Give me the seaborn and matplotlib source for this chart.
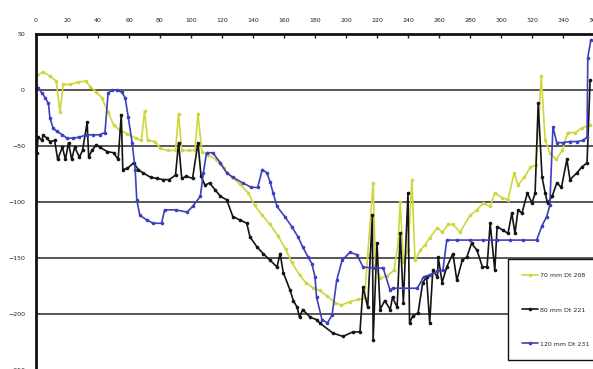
import matplotlib
matplotlib.use("Agg")
import matplotlib.pyplot as plt
import pandas as pd
import seaborn as sns

sns.set_theme(style="white")
plt.rcParams["font.family"] = ["DejaVu Sans"]

# -----------------------
# DATA
# -----------------------
labels = ["70 mm Dt 208", "80 mm Dt 221", "120 mm Dt 231"]

x_70 = [0.6, 4.5, 9, 13, 15.5, 17.5, 22, 27, 32, 35, 39, 42.5, 46.5, 50, 54,
        59, 64.5, 68, 70, 72, 77, 80, 85, 90, 92, 94, 99, 102.5, 104.5, 107,
        111, 116, 121, 126.5, 131.5, 137, 141, 146, 151, 156, 161, 165, 170,
        174, 179, 183, 188, 193, 197, 202.5, 208, 212, 214, 217.5, 219, 222,
        226.5, 231, 233.5, 235, 237, 240, 242.5, 244.5, 248, 251, 254, 259,
        262, 266, 269, 273.5, 280, 284.5, 288.5, 293, 296, 300.5, 304.5,
        308.5, 311, 315, 319, 322.5, 326, 328.5, 331.5, 335.5, 339.5, 343,
        348, 352, 357.5]
y_70 = [13, 16, 12.5, 8, -20, 5, 5, 7, 8, 3, -2, -7, -20, -31, -36,
        -39, -43, -45, -19, -45, -46, -52, -54, -54, -21, -54, -54, -54, -21, -55,
        -58, -62, -70, -78, -84, -92, -103, -112, -120, -130, -142, -154, -165,
        -172, -177, -179, -184, -190, -192, -189, -187, -186, -147, -83, -156, -168,
        -166, -161, -138, -100, -154, -143, -80, -152, -143, -138, -132, -123,
        -127, -120, -120, -127, -112, -107, -101, -104, -92, -96, -98,
        -74, -85, -78, -69, -67, 12.5, -45, -56, -62, -54, -38,
        -38, -34, -31]

x_80 = [0.6, 1.3, 4, 4.5, 7, 9, 12, 14, 17, 19, 21, 23, 25, 28, 30, 33, 34,
        36, 39, 41, 46, 50, 53, 55, 56, 59, 63, 66, 69, 74, 78, 82, 86, 90,
        92, 94, 97, 101, 104.5, 106.5, 109, 112, 115.5, 119, 123, 127, 131.5,
        136, 138, 142.5, 146.5, 151, 155.5, 157.5, 159.5, 164, 166, 168.5,
        170, 172, 177, 181, 183, 191.5, 198, 204.5, 209, 211, 214, 217,
        217.5, 220, 222, 225, 228.5, 230, 233, 235, 237, 240, 241, 243,
        246.5, 249.5, 252, 254, 256, 259, 259.5, 262, 265, 269, 271.5, 275,
        278, 281, 284.5, 288, 291, 293, 296, 297.5, 301, 304.5, 307, 309,
        311, 313.5, 317, 320, 322, 324, 326.5, 328.5, 330, 333, 336, 339,
        342.5, 344.5, 349, 352, 355.5, 357.5]
y_80 = [-56, -42, -45, -40, -43, -46, -45, -62, -51, -62, -47, -62, -51, -60, -54, -29, -60,
        -54, -49, -51, -55, -56, -62, -22, -71, -70, -65, -71, -74, -78, -79, -80, -80, -76,
        -47, -79, -77, -79, -47, -77, -85, -83, -89, -95, -98, -113, -116,
        -119, -131, -140, -146, -152, -158, -146, -163, -179, -188, -194,
        -203, -196, -203, -205, -208, -217, -220, -216, -216, -176, -194, -112,
        -223, -137, -196, -188, -196, -185, -194, -128, -190, -92, -208, -202,
        -199, -172, -167, -208, -161, -167, -149, -172, -158, -146, -170, -152,
        -149, -137, -143, -158, -158, -119, -161, -122, -125, -128, -110, -128,
        -107, -110, -92, -101, -92, -12, -78, -92, -101, -95, -83, -87,
        -62, -80, -74, -69, -65, 9]

x_120 = [0, 1.3, 4, 6, 8, 9, 11, 13.5, 17, 20, 24, 28, 33, 37, 41, 44.5,
         46.5, 49, 52, 55.5, 57.5, 59.5, 62, 64, 65, 67, 71.5, 75.5, 81, 83,
         90, 97.5, 101, 106, 108, 110, 114, 119, 123, 127, 133.5, 139, 143,
         146, 149, 151, 153, 155.5, 160.5, 165, 169, 172, 175.5, 178, 180,
         181, 184.5, 188, 191, 194, 197.5, 202.5, 207, 211, 217.5, 224,
         228.5, 230, 237, 246, 250, 254, 259, 262.5, 265, 271.5, 280, 288.5,
         297.5, 306, 314, 323, 326.5, 329.5, 331.5, 333.5, 336, 340, 344.5,
         349, 353, 355.5, 356, 358]
y_120 = [3, 2, -3, -7, -12, -25, -34, -37, -40, -43, -43, -42, -40, -40, -40, -38,
         -3, 0, 0, -2, -7, -24, -47, -71, -98, -112, -116, -119, -119, -107,
         -107, -109, -104, -95, -74, -56, -56, -65, -74, -78, -83, -87, -87,
         -71, -74, -82, -92, -104, -113, -122, -131, -140, -149, -155, -167,
         -185, -205, -208, -201, -170, -152, -145, -147, -158, -159, -159,
         -179, -177, -177, -177, -167, -165, -162, -161, -134, -134, -134, -134,
         -134, -134, -134, -134, -121, -113, -103, -33, -47, -47, -46,
         -46, -45, -42, 29, 45]

colors = ["#cfd63c", "#141414", "#3c40bd"]
x_ticks = list(range(0, 361, 20))
y_ticks = [50, 0, -50, -100, -150, -200, -250]

# -----------------------
# FIGURE SETUP
# -----------------------
W, H = 593, 369
fig = plt.figure(figsize=(W / 100, H / 100), dpi=100)
ax = fig.add_axes([36 / W, -1 / H, 558 / W, (369 - 34 + 1) / H])

series = [(x_70, y_70), (x_80, y_80), (x_120, y_120)]
for (xs, ys), lab, col in zip(series, labels, colors):
    df = pd.DataFrame({"x": xs, "y": ys})
    sns.lineplot(data=df, x="x", y="y", ax=ax, sort=False, estimator=None,
                 color=col, lw=1.2, marker="o", markersize=2.6,
                 markeredgewidth=0, label=lab)

ax.set_xlim(0, 360)
ax.set_ylim(-250, 50)
ax.set_xlabel("")
ax.set_ylabel("")

# -----------------------
# AXES STYLE
# -----------------------
ax.set_yticks(y_ticks)
ax.set_xticks(x_ticks)
ax.xaxis.tick_top()
ax.tick_params(axis="x", direction="in", length=3, width=1, pad=8,
               labelsize=4.5, colors="#222222")
ax.tick_params(axis="y", length=0, pad=8, labelsize=4.5, colors="#222222")
ax.grid(axis="y", color="#2a2a2a", lw=1.1)
ax.grid(axis="x", visible=False)
ax.set_axisbelow(True)
for side in ["right", "bottom"]:
    ax.spines[side].set_visible(False)
for side in ["top", "left"]:
    ax.spines[side].set_linewidth(2)
    ax.spines[side].set_color("#111111")

# -----------------------
# LEGEND
# -----------------------
leg = ax.legend(loc="upper left",
                bbox_to_anchor=(508 / W, 1 - 263 / H, 90 / W, 0.01),
                bbox_transform=fig.transFigure, mode="expand",
                fontsize=4.5, frameon=True, fancybox=False,
                borderpad=2.2, labelspacing=4.6, handlelength=2.6,
                handletextpad=0.3, borderaxespad=0)
leg.get_frame().set_edgecolor("#111111")
leg.get_frame().set_linewidth(1.0)
leg.get_frame().set_facecolor("white")
leg.get_frame().set_alpha(1)

fig.savefig("out.png", dpi=100)
